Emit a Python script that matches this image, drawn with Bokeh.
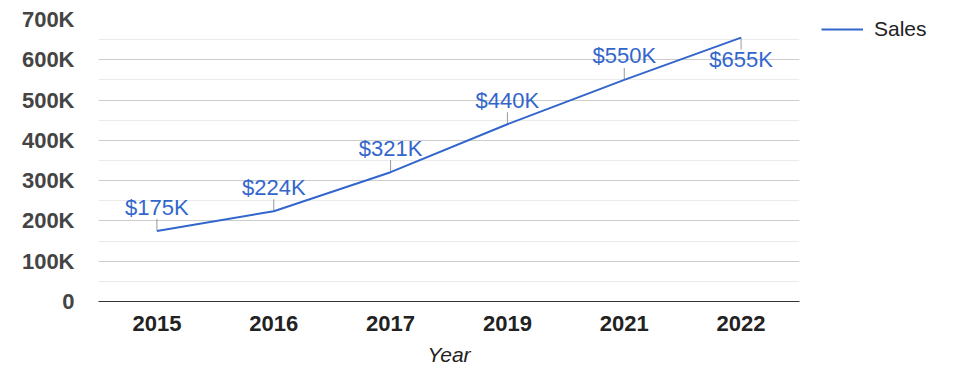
from bokeh.plotting import figure
from bokeh.models import ColumnDataSource, FactorRange, Range1d, FixedTicker, Legend, LegendItem
from bokeh.embed import file_html
from bokeh.resources import INLINE
from bokeh.core.properties import value

# ---- data ----
years = ["2015", "2016", "2017", "2019", "2021", "2022"]
sales = [175000, 224000, 321000, 440000, 550000, 655000]
sales_labels = ["$175K", "$224K", "$321K", "$440K", "$550K", "$655K"]
label_side = ["above", "above", "above", "above", "above", "below"]
y_ticks = [0, 100000, 200000, 300000, 400000, 500000, 600000, 700000]
y_tick_labels = ["0", "100K", "200K", "300K", "400K", "500K", "600K", "700K"]
y_max = 700000

FONT = "Liberation Sans"
BLUE = "#3366cc"
FRAME_W, FRAME_H = 701, 282
LEADER_PX = 12

p = figure(
    x_range=FactorRange(factors=years, range_padding=0),
    y_range=Range1d(0, y_max),
    frame_width=FRAME_W, frame_height=FRAME_H,
    min_border_left=98, min_border_right=168, min_border_top=19, min_border_bottom=69,
    output_backend="svg", toolbar_location=None,
)
p.outline_line_color = None
p.background_fill_color = "white"
p.border_fill_color = "white"

# grid
p.xgrid.grid_line_color = None
p.ygrid.grid_line_color = "#cccccc"
p.ygrid.minor_grid_line_color = "#ebebeb"

# y axis
p.yaxis.ticker = FixedTicker(ticks=y_ticks, minor_ticks=[t + 50000 for t in y_ticks[:-1]])
p.yaxis.major_label_overrides = {t: l for t, l in zip(y_ticks, y_tick_labels)}
p.yaxis.axis_line_color = None
p.yaxis.major_tick_line_color = None
p.yaxis.minor_tick_line_color = None
p.yaxis.major_tick_in = 0
p.yaxis.major_tick_out = 0
p.yaxis.major_label_standoff = 20
p.yaxis.major_label_text_font = FONT
p.yaxis.major_label_text_font_size = "22px"
p.yaxis.major_label_text_font_style = "bold"
p.yaxis.major_label_text_color = "#444444"

# x axis
p.xaxis.axis_line_color = "#333333"
p.xaxis.axis_line_width = 1
p.xaxis.major_tick_line_color = None
p.xaxis.major_tick_in = 0
p.xaxis.major_tick_out = 0
p.xaxis.major_label_standoff = 14
p.xaxis.major_label_text_font = FONT
p.xaxis.major_label_text_font_size = "22px"
p.xaxis.major_label_text_font_style = "bold"
p.xaxis.major_label_text_color = "#222222"
p.xaxis.axis_label = "Year"
p.xaxis.axis_label_standoff = 9
p.xaxis.axis_label_text_font = FONT
p.xaxis.axis_label_text_font_size = "21px"
p.xaxis.axis_label_text_font_style = "italic"
p.xaxis.axis_label_text_color = "#222222"

# leader lines
leader = LEADER_PX * y_max / FRAME_H
lead_end = [v + leader if s == "above" else v - leader for v, s in zip(sales, label_side)]
src_lead = ColumnDataSource(dict(x=years, y0=sales, y1=lead_end))
p.segment(x0="x", y0="y0", x1="x", y1="y1", source=src_lead, line_color="#999999", line_width=1)

# line
src = ColumnDataSource(dict(x=years, y=sales))
line_r = p.line(x="x", y="y", source=src, line_color=BLUE, line_width=2)

# data labels
offs = [-24 if s == "above" else 22 for s in label_side]
src_lab = ColumnDataSource(dict(x=years, y=sales, t=sales_labels, off=offs))
p.text(x="x", y="y", text="t", source=src_lab, y_offset="off",
       text_align="center", text_baseline="middle",
       text_font=value(FONT), text_font_size="22px", text_color=BLUE)

# legend
legend = Legend(items=[LegendItem(label="Sales", renderers=[line_r])],
                location=(22, FRAME_H - 22), margin=0, padding=0,
                glyph_width=42, glyph_height=20, label_standoff=11,
                label_text_font=FONT, label_text_font_size="21px",
                label_text_color="#222222", border_line_color=None,
                background_fill_alpha=0)
p.add_layout(legend, "right")

open("out.html", "w").write(file_html(p, INLINE))
